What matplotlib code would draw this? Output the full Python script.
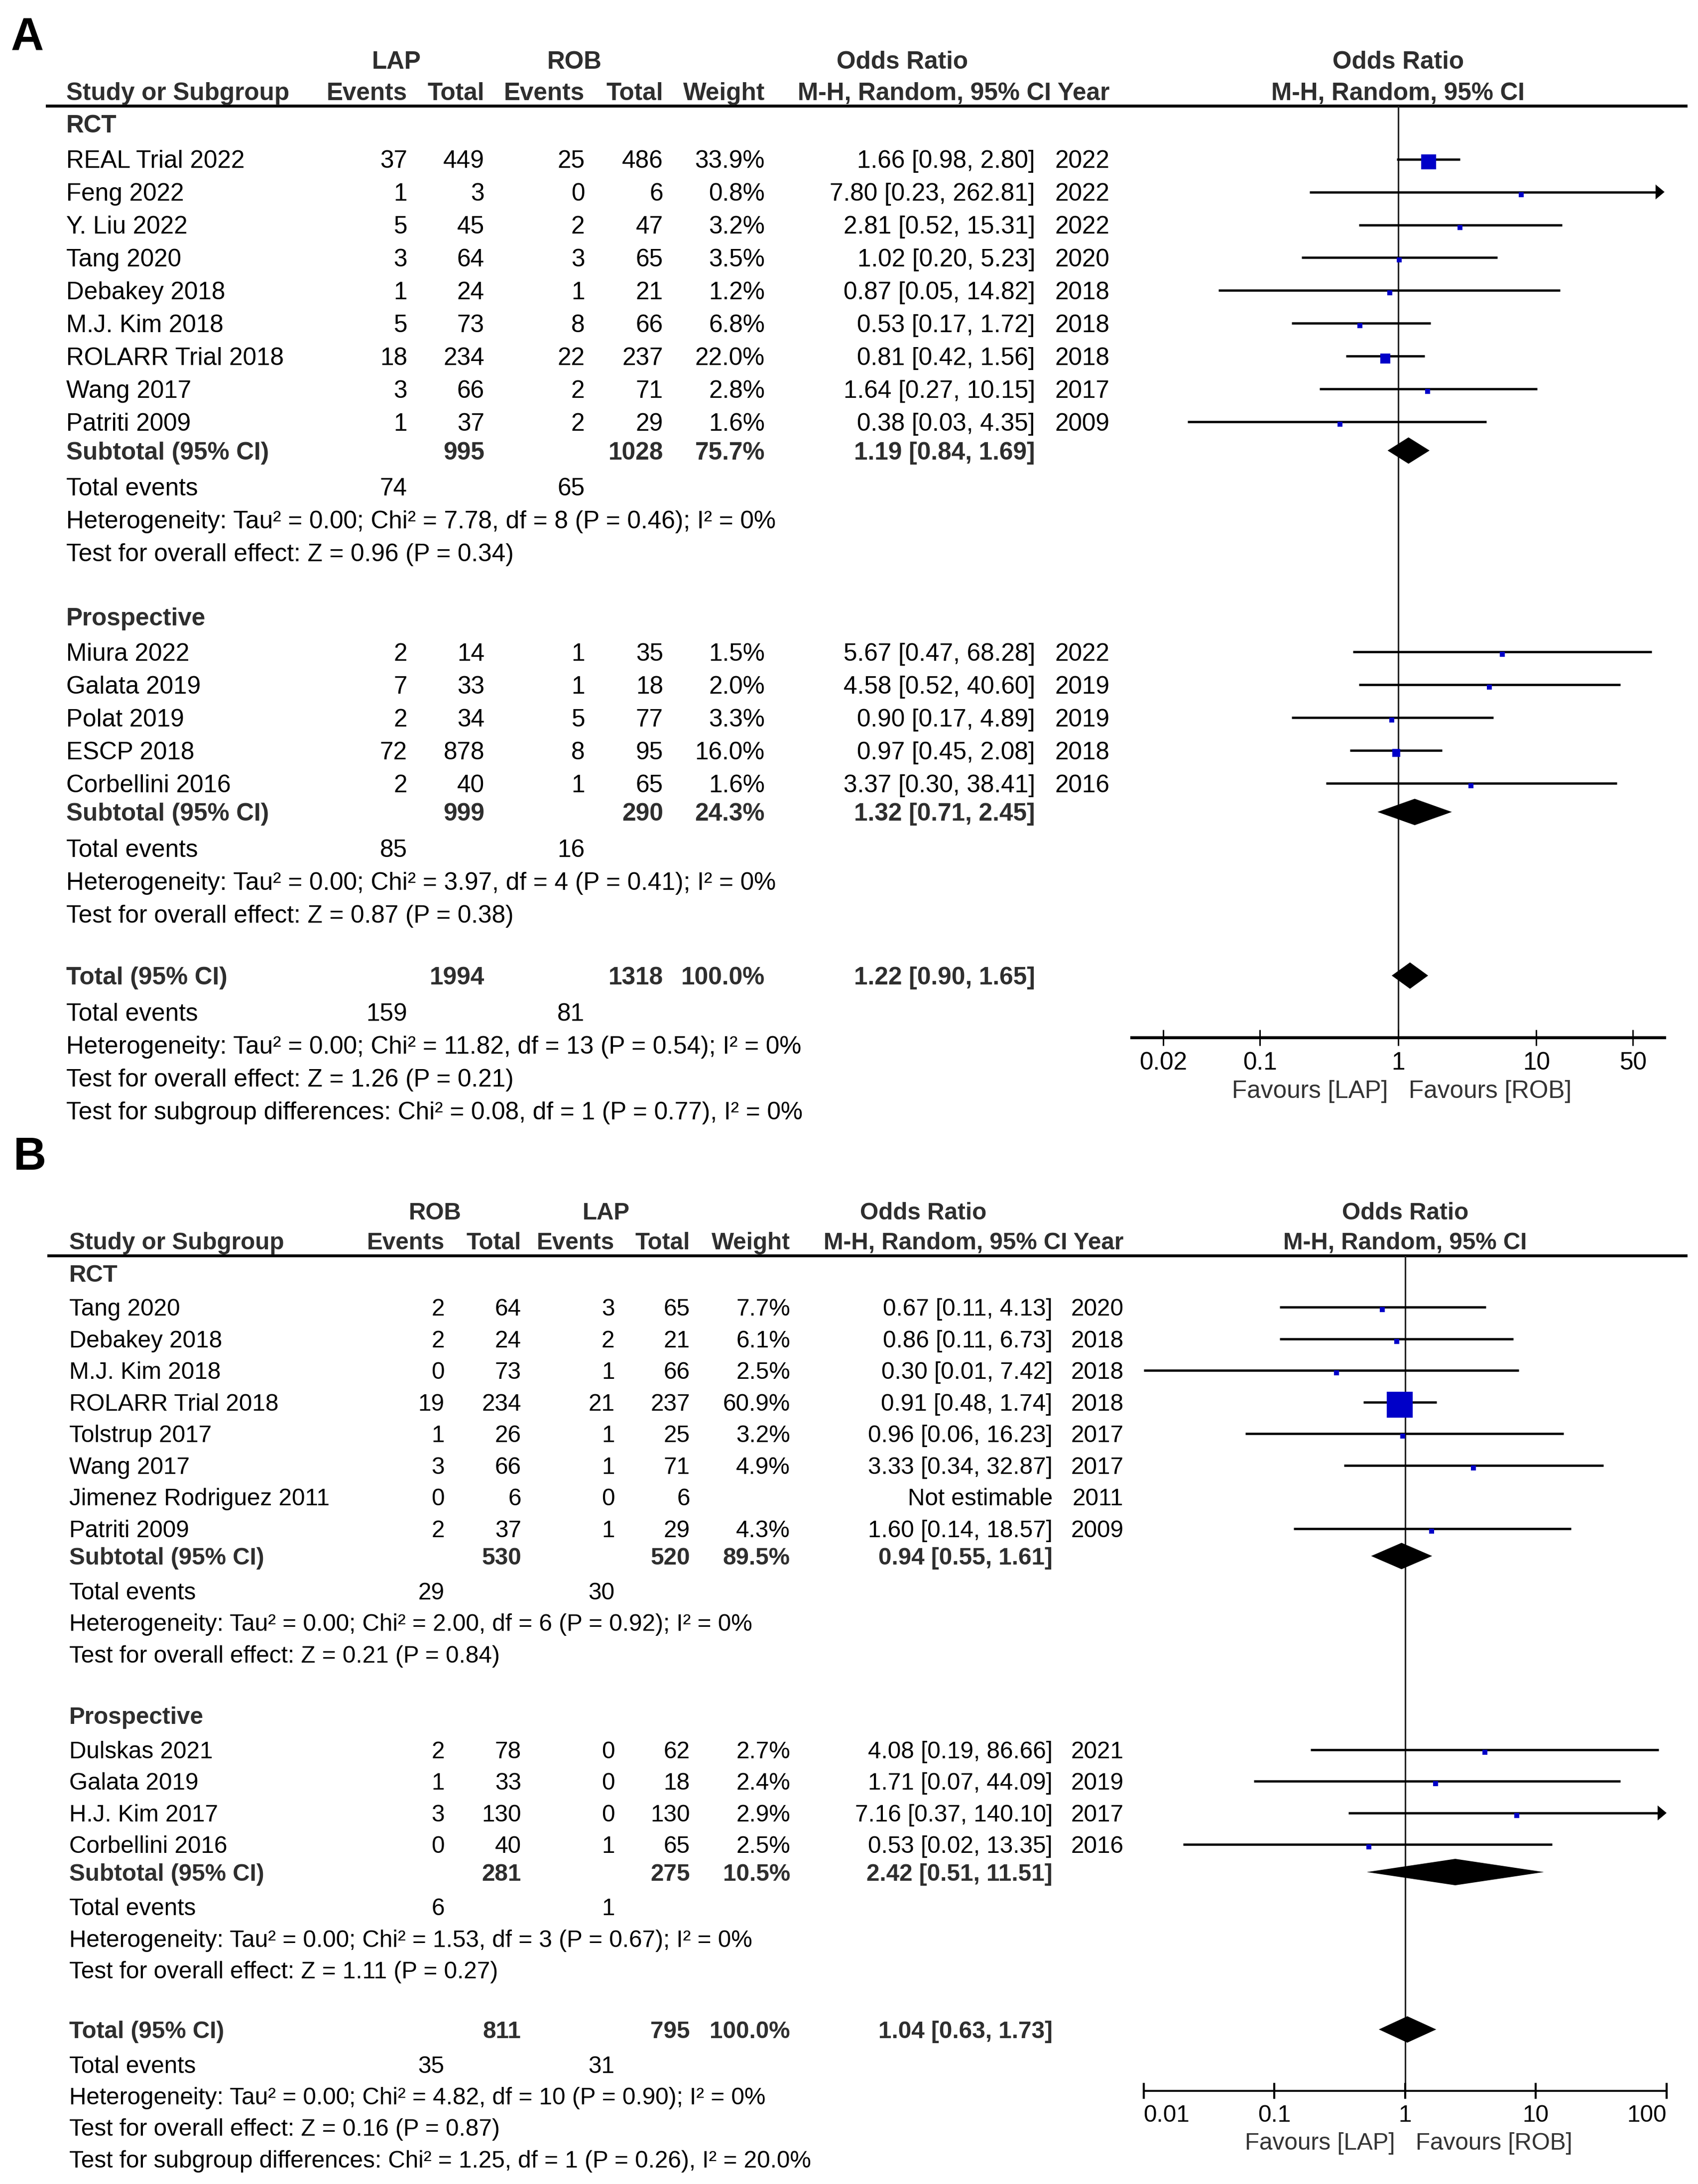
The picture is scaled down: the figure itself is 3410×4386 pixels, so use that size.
import matplotlib
matplotlib.use("Agg")
import matplotlib.pyplot as plt
from matplotlib.patches import Polygon
from matplotlib.ticker import FixedLocator, NullLocator
import numpy as np

plt.rcParams['font.family'] = ['Liberation Sans', 'DejaVu Sans']

# ---------------------------------------------------------------- data: panel A
a_arms = ["LAP", "ROB"]
a_favours = ["Favours [LAP]", "Favours [ROB]"]
a_ticks = [0.02, 0.1, 1, 10, 50]
a_tick_labels = ["0.02", "0.1", "1", "10", "50"]

a_rct_study = ["REAL Trial 2022", "Feng 2022", "Y. Liu 2022", "Tang 2020", "Debakey 2018",
               "M.J. Kim 2018", "ROLARR Trial 2018", "Wang 2017", "Patriti 2009"]
a_rct_ev1 = [37, 1, 5, 3, 1, 5, 18, 3, 1]
a_rct_tot1 = [449, 3, 45, 64, 24, 73, 234, 66, 37]
a_rct_ev2 = [25, 0, 2, 3, 1, 8, 22, 2, 2]
a_rct_tot2 = [486, 6, 47, 65, 21, 66, 237, 71, 29]
a_rct_weight = [33.9, 0.8, 3.2, 3.5, 1.2, 6.8, 22.0, 2.8, 1.6]
a_rct_or = [1.66, 7.80, 2.81, 1.02, 0.87, 0.53, 0.81, 1.64, 0.38]
a_rct_lo = [0.98, 0.23, 0.52, 0.20, 0.05, 0.17, 0.42, 0.27, 0.03]
a_rct_hi = [2.80, 262.81, 15.31, 5.23, 14.82, 1.72, 1.56, 10.15, 4.35]
a_rct_year = [2022, 2022, 2022, 2020, 2018, 2018, 2018, 2017, 2009]
a_rct_sub_n = [995, 1028]
a_rct_sub_w = 75.7
a_rct_sub_est = [1.19, 0.84, 1.69]
a_rct_events = [74, 65]
a_rct_het = "Heterogeneity: Tau² = 0.00; Chi² = 7.78, df = 8 (P = 0.46); I² = 0%"
a_rct_z = "Test for overall effect: Z = 0.96 (P = 0.34)"

a_pro_study = ["Miura 2022", "Galata 2019", "Polat 2019", "ESCP 2018", "Corbellini 2016"]
a_pro_ev1 = [2, 7, 2, 72, 2]
a_pro_tot1 = [14, 33, 34, 878, 40]
a_pro_ev2 = [1, 1, 5, 8, 1]
a_pro_tot2 = [35, 18, 77, 95, 65]
a_pro_weight = [1.5, 2.0, 3.3, 16.0, 1.6]
a_pro_or = [5.67, 4.58, 0.90, 0.97, 3.37]
a_pro_lo = [0.47, 0.52, 0.17, 0.45, 0.30]
a_pro_hi = [68.28, 40.60, 4.89, 2.08, 38.41]
a_pro_year = [2022, 2019, 2019, 2018, 2016]
a_pro_sub_n = [999, 290]
a_pro_sub_w = 24.3
a_pro_sub_est = [1.32, 0.71, 2.45]
a_pro_events = [85, 16]
a_pro_het = "Heterogeneity: Tau² = 0.00; Chi² = 3.97, df = 4 (P = 0.41); I² = 0%"
a_pro_z = "Test for overall effect: Z = 0.87 (P = 0.38)"

a_total_n = [1994, 1318]
a_total_w = 100.0
a_total_est = [1.22, 0.90, 1.65]
a_total_events = [159, 81]
a_total_het = "Heterogeneity: Tau² = 0.00; Chi² = 11.82, df = 13 (P = 0.54); I² = 0%"
a_total_z = "Test for overall effect: Z = 1.26 (P = 0.21)"
a_subgroup = "Test for subgroup differences: Chi² = 0.08, df = 1 (P = 0.77), I² = 0%"

# ---------------------------------------------------------------- data: panel B
b_arms = ["ROB", "LAP"]
b_favours = ["Favours [LAP]", "Favours [ROB]"]
b_ticks = [0.01, 0.1, 1, 10, 100]
b_tick_labels = ["0.01", "0.1", "1", "10", "100"]

b_rct_study = ["Tang 2020", "Debakey 2018", "M.J. Kim 2018", "ROLARR Trial 2018", "Tolstrup 2017",
               "Wang 2017", "Jimenez Rodriguez 2011", "Patriti 2009"]
b_rct_ev1 = [2, 2, 0, 19, 1, 3, 0, 2]
b_rct_tot1 = [64, 24, 73, 234, 26, 66, 6, 37]
b_rct_ev2 = [3, 2, 1, 21, 1, 1, 0, 1]
b_rct_tot2 = [65, 21, 66, 237, 25, 71, 6, 29]
b_rct_weight = [7.7, 6.1, 2.5, 60.9, 3.2, 4.9, None, 4.3]
b_rct_or = [0.67, 0.86, 0.30, 0.91, 0.96, 3.33, None, 1.60]
b_rct_lo = [0.11, 0.11, 0.01, 0.48, 0.06, 0.34, None, 0.14]
b_rct_hi = [4.13, 6.73, 7.42, 1.74, 16.23, 32.87, None, 18.57]
b_rct_year = [2020, 2018, 2018, 2018, 2017, 2017, 2011, 2009]
b_rct_sub_n = [530, 520]
b_rct_sub_w = 89.5
b_rct_sub_est = [0.94, 0.55, 1.61]
b_rct_events = [29, 30]
b_rct_het = "Heterogeneity: Tau² = 0.00; Chi² = 2.00, df = 6 (P = 0.92); I² = 0%"
b_rct_z = "Test for overall effect: Z = 0.21 (P = 0.84)"

b_pro_study = ["Dulskas 2021", "Galata 2019", "H.J. Kim 2017", "Corbellini 2016"]
b_pro_ev1 = [2, 1, 3, 0]
b_pro_tot1 = [78, 33, 130, 40]
b_pro_ev2 = [0, 0, 0, 1]
b_pro_tot2 = [62, 18, 130, 65]
b_pro_weight = [2.7, 2.4, 2.9, 2.5]
b_pro_or = [4.08, 1.71, 7.16, 0.53]
b_pro_lo = [0.19, 0.07, 0.37, 0.02]
b_pro_hi = [86.66, 44.09, 140.10, 13.35]
b_pro_year = [2021, 2019, 2017, 2016]
b_pro_sub_n = [281, 275]
b_pro_sub_w = 10.5
b_pro_sub_est = [2.42, 0.51, 11.51]
b_pro_events = [6, 1]
b_pro_het = "Heterogeneity: Tau² = 0.00; Chi² = 1.53, df = 3 (P = 0.67); I² = 0%"
b_pro_z = "Test for overall effect: Z = 1.11 (P = 0.27)"

b_total_n = [811, 795]
b_total_w = 100.0
b_total_est = [1.04, 0.63, 1.73]
b_total_events = [35, 31]
b_total_het = "Heterogeneity: Tau² = 0.00; Chi² = 4.82, df = 10 (P = 0.90); I² = 0%"
b_total_z = "Test for overall effect: Z = 0.16 (P = 0.87)"
b_subgroup = "Test for subgroup differences: Chi² = 1.25, df = 1 (P = 0.26), I² = 20.0%"


def group(name, study, ev1, tot1, ev2, tot2, weight, orr, lo, hi, year,
          sub_n, sub_w, sub_est, events, het, z):
    return dict(name=name, study=study, ev1=ev1, tot1=tot1, ev2=ev2, tot2=tot2,
                weight=weight, orr=orr, lo=lo, hi=hi, year=year, sub_n=sub_n,
                sub_w=sub_w, sub_est=sub_est, events=events, het=het, z=z)


panel_a = dict(
    arms=a_arms, favours=a_favours, ticks=a_ticks, tick_labels=a_tick_labels,
    groups=[group("RCT", a_rct_study, a_rct_ev1, a_rct_tot1, a_rct_ev2, a_rct_tot2, a_rct_weight,
                  a_rct_or, a_rct_lo, a_rct_hi, a_rct_year, a_rct_sub_n, a_rct_sub_w,
                  a_rct_sub_est, a_rct_events, a_rct_het, a_rct_z),
            group("Prospective", a_pro_study, a_pro_ev1, a_pro_tot1, a_pro_ev2, a_pro_tot2,
                  a_pro_weight, a_pro_or, a_pro_lo, a_pro_hi, a_pro_year, a_pro_sub_n,
                  a_pro_sub_w, a_pro_sub_est, a_pro_events, a_pro_het, a_pro_z)],
    total_n=a_total_n, total_w=a_total_w, total_est=a_total_est, total_events=a_total_events,
    total_het=a_total_het, total_z=a_total_z, subgroup=a_subgroup)

panel_b = dict(
    arms=b_arms, favours=b_favours, ticks=b_ticks, tick_labels=b_tick_labels,
    groups=[group("RCT", b_rct_study, b_rct_ev1, b_rct_tot1, b_rct_ev2, b_rct_tot2, b_rct_weight,
                  b_rct_or, b_rct_lo, b_rct_hi, b_rct_year, b_rct_sub_n, b_rct_sub_w,
                  b_rct_sub_est, b_rct_events, b_rct_het, b_rct_z),
            group("Prospective", b_pro_study, b_pro_ev1, b_pro_tot1, b_pro_ev2, b_pro_tot2,
                  b_pro_weight, b_pro_or, b_pro_lo, b_pro_hi, b_pro_year, b_pro_sub_n,
                  b_pro_sub_w, b_pro_sub_est, b_pro_events, b_pro_het, b_pro_z)],
    total_n=b_total_n, total_w=b_total_w, total_est=b_total_est, total_events=b_total_events,
    total_het=b_total_het, total_z=b_total_z, subgroup=b_subgroup)

# ---------------------------------------------------------------- layout
W_PX, H_PX, DPI = 3411, 4386, 300
W = 1220.0
S = W_PX / W
H = H_PX / S

layout_a = dict(fs=11.9, name_x=47.5, ev1_r=292.5, tot1_r=348, ev2_r=420, tot2_r=476.4,
                w_r=549.3, or_r=743.5, yr_r=797, grp1_c=284.7, grp2_c=412.5, or_c=648,
                hy1=42.9, hy2=65.6, line_y=76.3, line_x0=33, line_x1=1212, y0=88.8, s=23.6,
                fx0=813, fx1=1195.6, fy_axis=745.3, xlim=(10 ** -1.926, 10 ** 1.928),
                axis_lw=1.45, tick_w=0.7, pad=3.0, fav_y=782.2, edge_inside=False,
                label='A', label_x=7.8, label_y=36)
layout_b = dict(fs=11.45, name_x=49.6, ev1_r=319.3, tot1_r=374.4, ev2_r=441.5, tot2_r=495.7,
                w_r=567.6, or_r=756, yr_r=807, grp1_c=312.5, grp2_c=435.5, or_c=663,
                hy1=869.7, hy2=891.2, line_y=902, line_x0=34, line_x1=1212, y0=914.5, s=22.7,
                fx0=821.4, fx1=1197.1, fy_axis=1501.8, xlim=(0.01, 100),
                axis_lw=0.9, tick_w=1.0, pad=2.6, fav_y=1538, edge_inside=True,
                label='B', label_x=9.7, label_y=840)

BOLD_C = '#2e2e2e'
BLUE = '#0000C8'

fig = plt.figure(figsize=(W_PX / DPI, H_PX / DPI), dpi=DPI)
fig.patch.set_facecolor('white')
base = fig.add_axes([0, 0, 1, 1])
base.set_xlim(0, W)
base.set_ylim(H, 0)
base.axis('off')


def cap_off(fs):
    return fs / 72 * DPI * 0.716 / 2 / S


def put(x, y, s, fs, ha='left', bold=False, color=None):
    base.text(x, y + cap_off(fs), s, ha=ha, va='baseline', fontsize=fs,
              fontweight='bold' if bold else 'normal',
              color=color if color else (BOLD_C if bold else 'black'))


def fmt_ci(o, l, h):
    return f"{o:.2f} [{l:.2f}, {h:.2f}]"


def study_mark(ax, o, lo, hi, w, y, xmin, xmax, dec):
    head_len = 18 / S
    head_hh = 15 / S
    x0, x1 = max(lo, xmin), min(hi, xmax)
    if hi > xmax:
        bx = xmax / 10 ** (head_len / dec)
        ax.add_patch(Polygon([[xmax, y], [bx, y - head_hh], [bx, y + head_hh]], closed=True,
                             facecolor='black', edgecolor='none', clip_on=False, zorder=2))
        x1 = bx
    if lo < xmin:
        bx = xmin * 10 ** (head_len / dec)
        ax.add_patch(Polygon([[xmin, y], [bx, y - head_hh], [bx, y + head_hh]], closed=True,
                             facecolor='black', edgecolor='none', clip_on=False, zorder=2))
        x0 = bx
    ax.plot([x0, x1], [y, y], color='black', lw=1.1, solid_capstyle='butt', clip_on=False, zorder=2)
    side_px = max(10.0, 0.8 * w + 3)
    side_pt = side_px * 72 / DPI
    ax.scatter([o], [y + 5 / S], marker='s', s=side_pt ** 2, color=BLUE, linewidths=0,
               zorder=3, clip_on=False)


def diamond(ax, est, y):
    hh = 26.5 / S
    ax.add_patch(Polygon([[est[1], y], [est[0], y - hh], [est[2], y], [est[0], y + hh]],
                         closed=True, facecolor='black', edgecolor='none', zorder=3))


def render(panel, L):
    fs = L['fs']
    s = L['s']
    base.text(L['label_x'], L['label_y'], L['label'], fontsize=22, fontweight='bold',
              color='black', va='baseline', ha='left')
    # table headers
    put(L['grp1_c'], L['hy1'], panel['arms'][0], fs, 'center', True)
    put(L['grp2_c'], L['hy1'], panel['arms'][1], fs, 'center', True)
    put(L['or_c'], L['hy1'], 'Odds Ratio', fs, 'center', True)
    put(L['name_x'], L['hy2'], 'Study or Subgroup', fs, 'left', True)
    for col, lab in [('ev1_r', 'Events'), ('tot1_r', 'Total'), ('ev2_r', 'Events'),
                     ('tot2_r', 'Total'), ('w_r', 'Weight')]:
        put(L[col], L['hy2'], lab, fs, 'right', True)
    put(L['yr_r'], L['hy2'], 'M-H, Random, 95% CI Year', fs, 'right', True)
    base.plot([L['line_x0'], L['line_x1']], [L['line_y']] * 2, color='black', lw=1.4,
              solid_capstyle='butt')

    # forest axes
    fx0, fx1 = L['fx0'], L['fx1']
    ax = fig.add_axes([fx0 / W, 1 - L['fy_axis'] / H, (fx1 - fx0) / W,
                       (L['fy_axis'] - L['line_y']) / H])
    ax.set_xscale('log')
    xmin, xmax = L['xlim']
    ax.set_xlim(xmin, xmax)
    ax.set_ylim(L['fy_axis'], L['line_y'])
    ax.patch.set_visible(False)
    for sp in ['top', 'left', 'right']:
        ax.spines[sp].set_visible(False)
    ax.spines['bottom'].set_linewidth(L['axis_lw'])
    ax.set_yticks([])
    ax.xaxis.set_major_locator(FixedLocator(panel['ticks']))
    ax.xaxis.set_minor_locator(NullLocator())
    ax.set_xticklabels(panel['tick_labels'])
    ax.tick_params(axis='x', direction='inout', length=7.7, width=L['tick_w'], labelsize=fs,
                   pad=L['pad'], colors='black')
    if L['edge_inside']:
        labs = ax.get_xticklabels()
        labs[0].set_ha('left')
        labs[-1].set_ha('right')
    ax.axvline(1, color='#222222', lw=0.75, zorder=1)
    dec = (fx1 - fx0) / np.log10(xmax / xmin)

    fc = (fx0 + fx1) / 2
    put(fc, L['hy1'], 'Odds Ratio', fs, 'center', True)
    put(fc, L['hy2'], 'M-H, Random, 95% CI', fs, 'center', True)
    fy = L['fav_y'] + cap_off(fs)
    ax.annotate(panel['favours'][0], xy=(1, fy), xycoords='data', xytext=(-4.8, 0),
                textcoords='offset points', ha='right', va='baseline', fontsize=fs,
                color='#333333', annotation_clip=False)
    ax.annotate(panel['favours'][1], xy=(1, fy), xycoords='data', xytext=(5.2, 0),
                textcoords='offset points', ha='left', va='baseline', fontsize=fs,
                color='#333333', annotation_clip=False)

    y = L['y0']
    for gi, g in enumerate(panel['groups']):
        if gi > 0:
            y += 1.95 * s
        put(L['name_x'], y, g['name'], fs, bold=True)
        for i in range(len(g['study'])):
            y += 1.08 * s if i == 0 else s
            put(L['name_x'], y, g['study'][i], fs)
            put(L['ev1_r'], y, str(g['ev1'][i]), fs, 'right')
            put(L['tot1_r'], y, str(g['tot1'][i]), fs, 'right')
            put(L['ev2_r'], y, str(g['ev2'][i]), fs, 'right')
            put(L['tot2_r'], y, str(g['tot2'][i]), fs, 'right')
            w = g['weight'][i]
            if w is not None:
                put(L['w_r'], y, f"{w:.1f}%", fs, 'right')
                put(L['or_r'], y, fmt_ci(g['orr'][i], g['lo'][i], g['hi'][i]), fs, 'right')
                study_mark(ax, g['orr'][i], g['lo'][i], g['hi'][i], w, y, xmin, xmax, dec)
            else:
                put(L['or_r'], y, 'Not estimable', fs, 'right')
            put(L['yr_r'], y, str(g['year'][i]), fs, 'right')
        y += 0.87 * s
        put(L['name_x'], y, 'Subtotal (95% CI)', fs, bold=True)
        put(L['tot1_r'], y, str(g['sub_n'][0]), fs, 'right', True)
        put(L['tot2_r'], y, str(g['sub_n'][1]), fs, 'right', True)
        put(L['w_r'], y, f"{g['sub_w']:.1f}%", fs, 'right', True)
        put(L['or_r'], y, fmt_ci(*g['sub_est']), fs, 'right', True)
        diamond(ax, g['sub_est'], y)
        y += 1.1 * s
        put(L['name_x'], y, 'Total events', fs)
        put(L['ev1_r'], y, str(g['events'][0]), fs, 'right')
        put(L['ev2_r'], y, str(g['events'][1]), fs, 'right')
        y += s
        put(L['name_x'], y, g['het'], fs)
        y += s
        put(L['name_x'], y, g['z'], fs)

    y += 1.88 * s
    put(L['name_x'], y, 'Total (95% CI)', fs, bold=True)
    put(L['tot1_r'], y, str(panel['total_n'][0]), fs, 'right', True)
    put(L['tot2_r'], y, str(panel['total_n'][1]), fs, 'right', True)
    put(L['w_r'], y, f"{panel['total_w']:.1f}%", fs, 'right', True)
    put(L['or_r'], y, fmt_ci(*panel['total_est']), fs, 'right', True)
    diamond(ax, panel['total_est'], y)
    y += 1.1 * s
    put(L['name_x'], y, 'Total events', fs)
    put(L['ev1_r'], y, str(panel['total_events'][0]), fs, 'right')
    put(L['ev2_r'], y, str(panel['total_events'][1]), fs, 'right')
    y += s
    put(L['name_x'], y, panel['total_het'], fs)
    y += s
    put(L['name_x'], y, panel['total_z'], fs)
    y += s
    put(L['name_x'], y, panel['subgroup'], fs)


render(panel_a, layout_a)
render(panel_b, layout_b)

fig.savefig('out.png', dpi=DPI, facecolor='white')
